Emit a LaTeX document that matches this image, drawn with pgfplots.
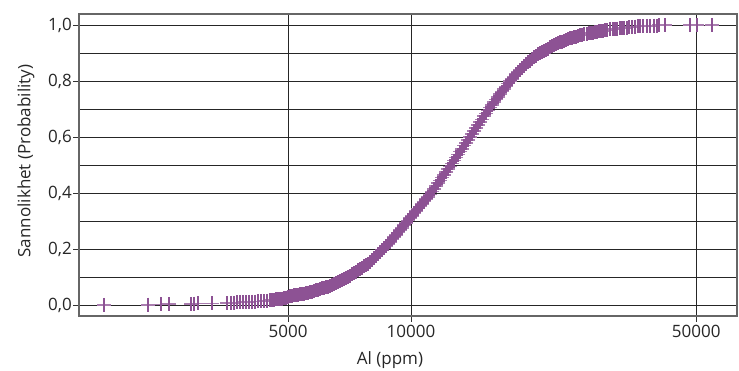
\documentclass[border=0pt]{standalone}
\usepackage{fontspec}
\setmainfont{Open Sans}
\usepackage{pgfplots}
\usepackage{pgfplotstable}
\pgfplotsset{compat=1.18}
\definecolor{pur}{RGB}{141,82,148}
\pgfplotstableread{
x y
1768 0.000
2267 0.001
2440 0.002
2553 0.003
2889 0.004
2939 0.005
3006 0.006
3253 0.006
3540 0.007
3620 0.008
3682 0.008
3745 0.009
3809 0.009
3874 0.010
3940 0.010
4007 0.011
4075 0.012
4145 0.012
4216 0.013
4288 0.013
4361 0.014
4435 0.015
4511 0.017
4562 0.018
4614 0.019
4666 0.020
4719 0.021
4773 0.022
4827 0.023
4882 0.025
4937 0.026
4993 0.028
5050 0.031
5107 0.032
5165 0.034
5224 0.035
5283 0.037
5343 0.038
5404 0.040
5465 0.041
5527 0.043
5590 0.044
5655 0.046
5719 0.048
5784 0.050
5850 0.052
5916 0.055
5983 0.057
6051 0.059
6120 0.061
6189 0.063
6260 0.066
6331 0.068
6403 0.072
6476 0.075
6549 0.079
6624 0.083
6699 0.087
6775 0.090
6852 0.094
6930 0.098
7008 0.101
7088 0.105
7168 0.110
7250 0.114
7332 0.119
7416 0.124
7500 0.129
7585 0.133
7671 0.138
7758 0.143
7846 0.147
7935 0.152
8025 0.159
8117 0.167
8209 0.174
8302 0.181
8397 0.189
8492 0.196
8589 0.203
8686 0.210
8785 0.218
8883 0.225
8984 0.234
9086 0.242
9190 0.251
9294 0.259
9400 0.268
9506 0.276
9614 0.285
9724 0.293
9834 0.302
9944 0.310
10057 0.318
10171 0.327
10287 0.335
10403 0.344
10521 0.352
10641 0.361
10762 0.369
10884 0.378
11008 0.386
11132 0.395
11258 0.405
11386 0.415
11515 0.425
11646 0.435
11778 0.445
11912 0.455
12047 0.465
12184 0.475
12322 0.485
12462 0.495
12603 0.506
12746 0.516
12891 0.527
13037 0.537
13185 0.548
13335 0.558
13486 0.569
13639 0.579
13794 0.590
13951 0.600
14109 0.611
14269 0.621
14431 0.632
14595 0.642
14761 0.653
14928 0.663
15098 0.674
15269 0.684
15442 0.695
15618 0.705
15795 0.715
15974 0.724
16156 0.734
16339 0.743
16524 0.753
16712 0.762
16901 0.772
17093 0.781
17287 0.791
17485 0.800
17683 0.808
17884 0.816
18087 0.824
18292 0.832
18500 0.840
18710 0.847
18922 0.853
19137 0.860
19354 0.867
19572 0.873
19794 0.878
20019 0.884
20246 0.889
20476 0.895
20709 0.900
20944 0.904
21182 0.908
21422 0.912
21665 0.916
21912 0.920
22160 0.924
22412 0.927
22666 0.931
22923 0.934
23184 0.938
23447 0.941
23713 0.944
23982 0.946
24254 0.949
24530 0.952
24808 0.954
25090 0.956
25374 0.958
25662 0.960
25954 0.963
26248 0.965
26546 0.967
27000 0.969
27306 0.970
27616 0.972
27930 0.973
28247 0.974
28567 0.976
28891 0.977
29219 0.978
29551 0.979
29886 0.981
30225 0.982
30754 0.984
31279 0.985
31634 0.986
31993 0.987
32539 0.988
32908 0.989
33282 0.990
33850 0.991
34234 0.992
34818 0.993
35412 0.994
36017 0.995
36426 0.995
37048 0.996
37894 0.997
38541 0.997
39421 0.998
40094 0.998
40549 0.999
41945 0.999
48300 0.999
50230 0.9995
54670 1.000
}\aldata
\begin{document}
\fontsize{17}{20}\selectfont
\begin{tikzpicture}
\begin{axis}[
  scale only axis, width=658pt, height=302pt,
  at={(0pt,0pt)}, anchor=south west,
  xmode=log, xmin=1536, xmax=62950,
  ymin=-0.0393, ymax=1.0393,
  xtick={5000,10000,50000}, xticklabels={5000,10000,50000},
  minor xtick={},
  ytick={0,0.2,0.4,0.6,0.8,1},
  minor ytick={0.1,0.3,0.5,0.7,0.9},
  grid=both,
  major grid style={draw=black!85, line width=0.9pt},
  minor grid style={draw=black!85, line width=0.9pt},
  tick align=outside, major tick length=6pt, minor tick length=0pt,
  xtick pos=bottom, ytick pos=left,
  tick style={draw=black!80, line width=0.9pt},
  axis line style={draw=black!60, line width=1.3pt},
  /pgf/number format/assume math mode=true,
  yticklabel style={/pgf/number format/.cd, fixed, fixed zerofill, precision=1, use comma, /tikz/.cd, inner xsep=1pt, text=black!85},
  xticklabel style={inner ysep=0pt, yshift=-3pt, text=black!85},
  xlabel={Al (ppm)}, ylabel={Sannolikhet (Probability)},
  xlabel style={at={(axis description cs:0.4726,-0.1457)}, anchor=center, text=black!85},
  ylabel style={at={(axis description cs:-0.0805,0.513)}, anchor=center, text=black!85},
]
\addplot[only marks, mark=-, mark size=7pt, draw=pur!75, mark options={line width=1.6pt}] table {\aldata};
\addplot[only marks, mark=|, mark size=7pt, draw=pur, mark options={line width=2.2pt}] table {\aldata};
\end{axis}
\pgfresetboundingbox
\path (-79pt,-55pt) rectangle (660pt,316pt);
\end{tikzpicture}
\end{document}
